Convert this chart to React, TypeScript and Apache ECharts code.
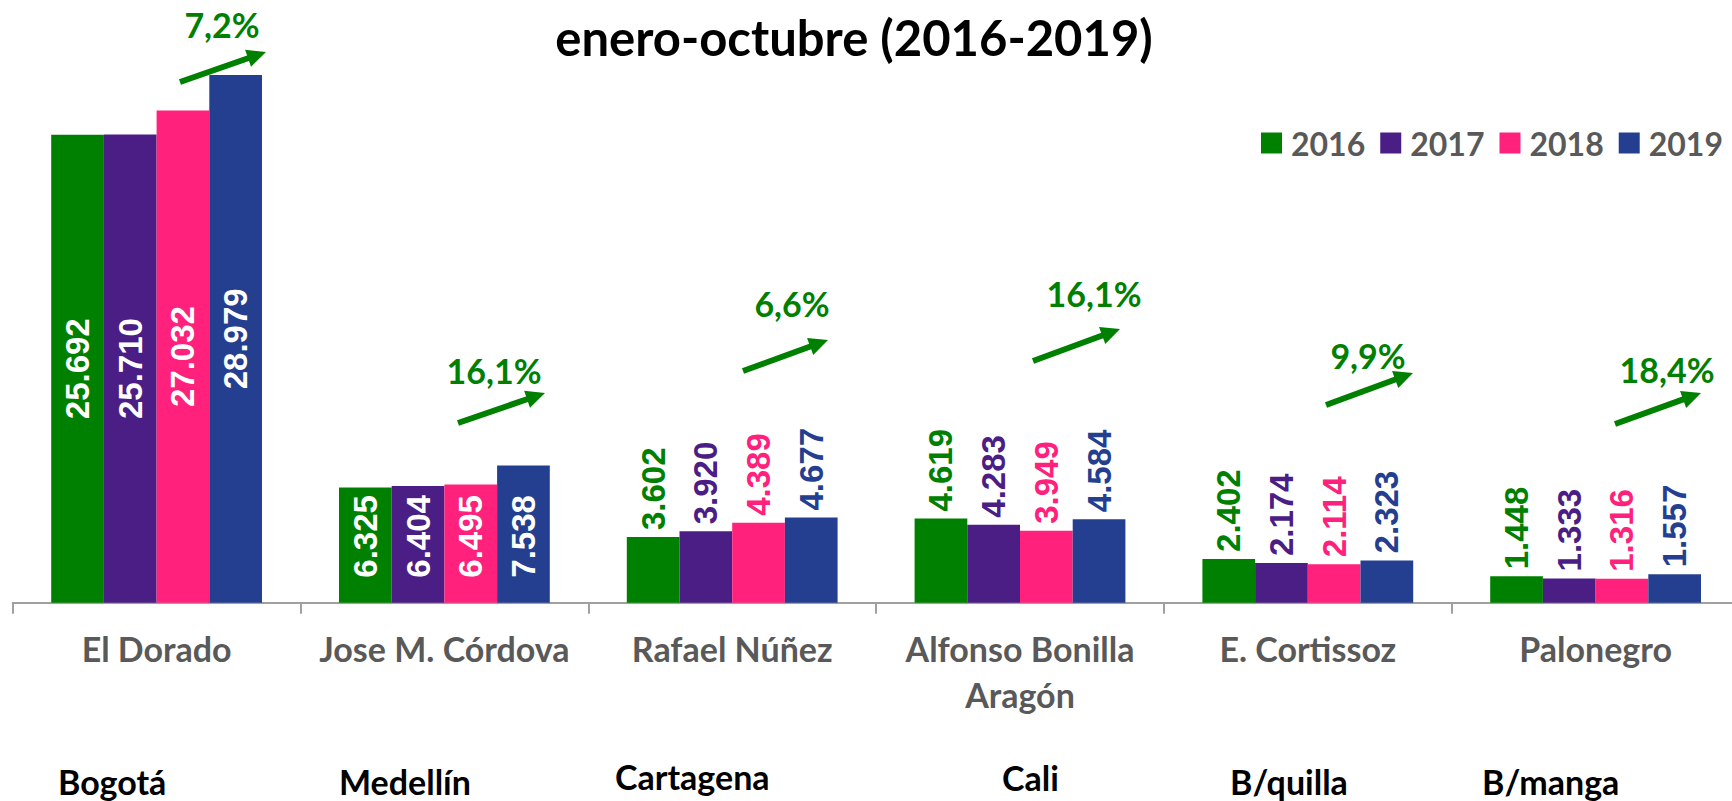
import React, { useEffect, useRef } from "react";
import * as echarts from "echarts";

// ---- data ----
const categories = [
  "El Dorado",
  "Jose M. Córdova",
  "Rafael Núñez",
  "Alfonso Bonilla\nAragón",
  "E. Cortissoz",
  "Palonegro",
];
const cities = ["Bogotá", "Medellín", "Cartagena", "Cali", "B/quilla", "B/manga"];
const years = ["2016", "2017", "2018", "2019"];
const values2016 = [25692, 6325, 3602, 4619, 2402, 1448];
const values2017 = [25710, 6404, 3920, 4283, 2174, 1333];
const values2018 = [27032, 6495, 4389, 3949, 2114, 1316];
const values2019 = [28979, 7538, 4677, 4584, 2323, 1557];
const growth = ["7,2%", "16,1%", "6,6%", "16,1%", "9,9%", "18,4%"];
const titleText = "enero-octubre (2016-2019)";

// ---- styles / layout ----
const colors = ["#008000", "#4B1E85", "#FF217C", "#243F8F"];
const arrowGreen = "#008000";
const LATO = "Lato";
// annotation layout (pixels)
const growthTextPos = [
  [222, 24],
  [494, 370],
  [792, 303],
  [1094, 293],
  [1368, 355],
  [1667, 369],
];
const arrowPos = [
  [180, 82, 266, 52],
  [458, 423, 545, 393],
  [743, 371, 828, 340],
  [1033, 361, 1120, 329],
  [1326, 405, 1413, 373],
  [1615, 424, 1701, 393],
];
const cityPos = [
  [58, 781],
  [339, 781],
  [615, 776],
  [1002, 777],
  [1230, 781],
  [1482, 781],
];

const fmt = (v: number) => String(v).replace(/\B(?=(\d{3})+(?!\d))/g, ".");

function arrow(x1: number, y1: number, x2: number, y2: number, color: string) {
  const dx = x2 - x1;
  const dy = y2 - y1;
  const len = Math.hypot(dx, dy);
  const ux = dx / len;
  const uy = dy / len;
  const head = 19;
  const hw = 9;
  const bx = x2 - ux * head;
  const by = y2 - uy * head;
  const px = -uy;
  const py = ux;
  return [
    {
      type: "line",
      shape: { x1, y1, x2: bx + ux * 3, y2: by + uy * 3 },
      style: { stroke: color, lineWidth: 6 },
    },
    {
      type: "polygon",
      shape: {
        points: [
          [x2, y2],
          [bx + px * hw, by + py * hw],
          [bx - px * hw, by - py * hw],
        ],
      },
      style: { fill: color },
    },
  ];
}

export default function App() {
  const ref = useRef<HTMLDivElement>(null);

  useEffect(() => {
    if (!ref.current) return;
    const chart = echarts.init(ref.current, null, { renderer: "svg" });
    const allValues = [values2016, values2017, values2018, values2019];

    const series = years.map((y, si) => ({
      name: y,
      type: "bar",
      barWidth: 52.7,
      barGap: "0%",
      itemStyle: { color: colors[si] },
      data: allValues[si].map((v, i) => {
        let label: any;
        if (i === 0) {
          label = {
            show: true,
            position: "inside",
            rotate: 90,
            align: "center",
            verticalAlign: "middle",
            color: "#ffffff",
          };
        } else if (i === 1) {
          label = {
            show: true,
            position: "insideBottom",
            distance: 25,
            rotate: 90,
            align: "left",
            verticalAlign: "middle",
            color: "#ffffff",
          };
        } else {
          label = {
            show: true,
            position: "top",
            distance: 7,
            rotate: 90,
            align: "left",
            verticalAlign: "middle",
            color: colors[si],
          };
        }
        return {
          value: v,
          label: {
            ...label,
            formatter: (p: any) => fmt(p.value),
            fontFamily: "Liberation Sans",
            fontWeight: "bold",
            fontSize: 33,
          },
        };
      }),
    }));

    const graphics: any[] = [];
    graphics.push({
      type: "text",
      x: 854,
      y: 37,
      style: {
        text: titleText,
        fill: "#000000",
        fontFamily: LATO,
        fontWeight: "bold",
        fontSize: 49,
        textAlign: "center",
        textVerticalAlign: "middle",
      },
    });
    growth.forEach((g, i) => {
      graphics.push({
        type: "text",
        x: growthTextPos[i][0],
        y: growthTextPos[i][1],
        style: {
          text: g,
          fill: arrowGreen,
          fontFamily: LATO,
          fontWeight: "bold",
          fontSize: 34,
          textAlign: "center",
          textVerticalAlign: "middle",
        },
      });
      const a = arrowPos[i];
      graphics.push(...arrow(a[0], a[1], a[2], a[3], arrowGreen));
    });
    cities.forEach((c, i) => {
      graphics.push({
        type: "text",
        x: cityPos[i][0],
        y: cityPos[i][1],
        style: {
          text: c,
          fill: "#000000",
          fontFamily: LATO,
          fontWeight: "bold",
          fontSize: 34,
          textAlign: "left",
          textVerticalAlign: "middle",
        },
      });
    });

    chart.setOption({
      animation: false,
      backgroundColor: "#ffffff",
      color: colors,
      grid: {
        left: 12.7,
        width: 1726.8,
        top: 1.7,
        bottom: 198.3,
        containLabel: false,
        outerBoundsMode: "none",
      },
      legend: {
        data: years,
        left: 1261,
        top: 127,
        width: 560,
        padding: 0,
        icon: "rect",
        itemWidth: 21,
        itemHeight: 21,
        itemGap: 15,
        textStyle: {
          fontFamily: LATO,
          fontWeight: "bold",
          fontSize: 32,
          lineHeight: 32,
          color: "#595959",
          padding: [0, 0, 0, 4],
        },
      },
      xAxis: {
        type: "category",
        data: categories,
        axisLine: { lineStyle: { color: "#A0A0A0", width: 2 } },
        axisTick: { show: true, length: 11, interval: 0, lineStyle: { color: "#A0A0A0", width: 2 } },
        axisLabel: {
          interval: 0,
          margin: 23,
          fontFamily: LATO,
          fontWeight: "bold",
          fontSize: 34,
          lineHeight: 46,
          color: "#595959",
        },
      },
      yAxis: {
        type: "value",
        min: 0,
        max: 33000,
        show: false,
        splitLine: { show: false },
      },
      series,
      graphic: graphics,
    });

    return () => chart.dispose();
  }, []);

  return (
    <div
      ref={ref}
      style={{ position: "fixed", left: 0, top: 0, width: 1732, height: 801, background: "#fff" }}
    />
  );
}
